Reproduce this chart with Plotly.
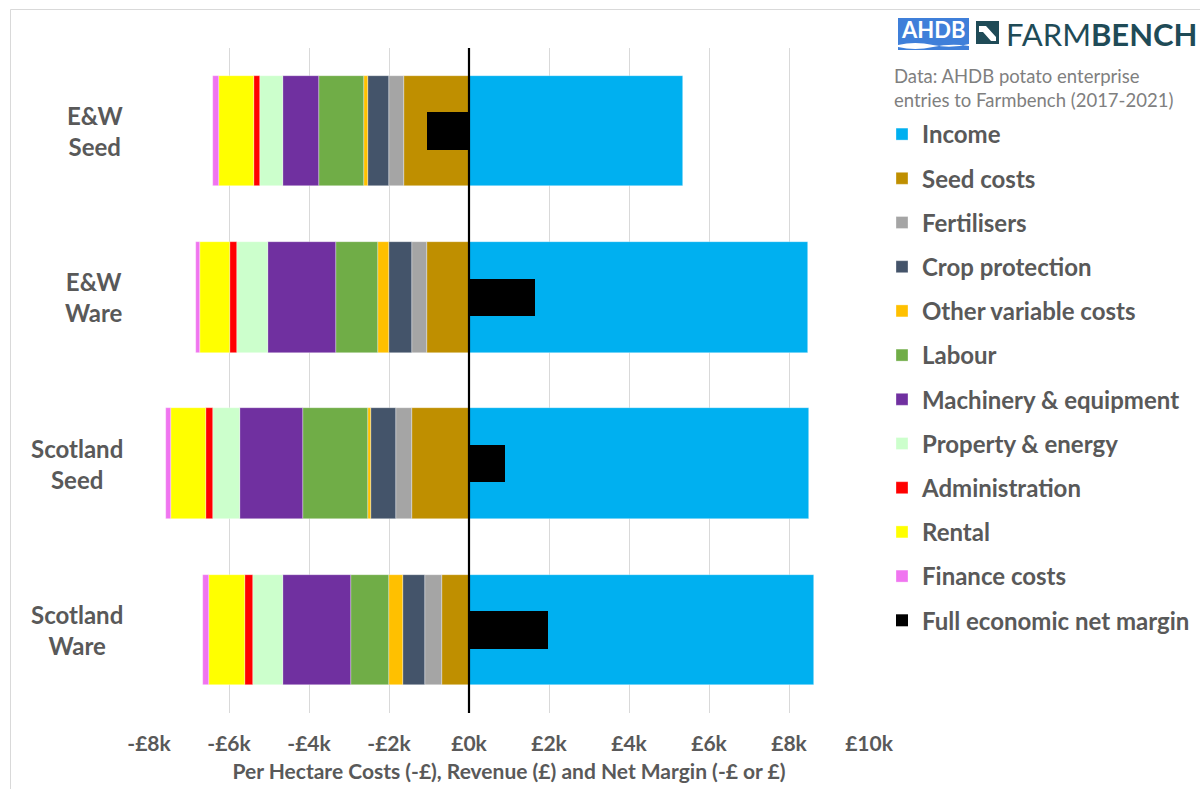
import plotly.graph_objects as go

# Per-hectare figures (£) for potato enterprises, Farmbench 2017-2021
categories = ["E&W Seed", "E&W Ware", "Scotland Seed", "Scotland Ware"]
category_labels = ["E&W<br>Seed", "E&W<br>Ware", "Scotland<br>Seed", "Scotland<br>Ware"]

income = [5340, 8485, 8490, 8635]
seed_costs = [-1615, -1057, -1425, -665]
fertilisers = [-392, -358, -390, -425]
crop_protection = [-508, -575, -625, -567]
other_variable = [-117, -292, -85, -333]
labour = [-1125, -1033, -1615, -960]
machinery = [-900, -1710, -1590, -1690]
property_energy = [-558, -775, -670, -750]
administration = [-160, -165, -180, -200]
rental = [-865, -765, -870, -910]
finance = [-160, -100, -130, -150]
net_margin = [-1060, 1655, 905, 1980]

tick_values = [-8000, -6000, -4000, -2000, 0, 2000, 4000, 6000, 8000, 10000]
tick_labels = ["-£8k", "-£6k", "-£4k", "-£2k", "£0k", "£2k", "£4k", "£6k", "£8k", "£10k"]

stack_series = [
    ("Income", income, "#00B0F0"),
    ("Seed costs", seed_costs, "#BF8F00"),
    ("Fertilisers", fertilisers, "#A5A5A5"),
    ("Crop protection", crop_protection, "#44546A"),
    ("Other variable costs", other_variable, "#FFC000"),
    ("Labour", labour, "#70AD47"),
    ("Machinery & equipment", machinery, "#7030A0"),
    ("Property & energy", property_energy, "#CCFFCC"),
    ("Administration", administration, "#FF0000"),
    ("Rental", rental, "#FFFF00"),
    ("Finance costs", finance, "#F075F0"),
]

FONT = "Lato, 'Open Sans', sans-serif"
GREY = "#595959"

# plot-area geometry in pixels (used for decorations outside the axes)
W, H = 1200, 789
L, R, T, B = 149, 331, 48, 76
PW, PH = W - L - R, H - T - B


def fx(px):
    return (px - L) / PW


def fy(py):
    return (H - B - py) / PH


fig = go.Figure()

for name, vals, color in stack_series:
    fig.add_trace(go.Bar(
        y=categories, x=vals, name=f"<b>{name}</b>", orientation="h",
        marker=dict(color=color, line=dict(width=0.6, color="rgba(255,255,255,0.55)")),
        width=0.665, legendgroup=name, yaxis="y",
    ))

fig.add_trace(go.Bar(
    y=categories, x=net_margin, name="<b>Full economic net margin</b>", orientation="h",
    marker=dict(color="#000000", line=dict(width=0)),
    width=0.225, legendgroup="net", yaxis="y2",
))

shapes = [
    # chart frame
    dict(type="rect", xref="paper", yref="paper",
         x0=fx(10.5), x1=fx(1215), y0=fy(805), y1=fy(9.5),
         line=dict(color="#D9D9D9", width=1), fillcolor="rgba(0,0,0,0)", layer="below"),
    # vertical zero line
    dict(type="line", xref="x", yref="paper", x0=0, x1=0, y0=0, y1=1,
         line=dict(color="#000000", width=2.2), layer="above"),
    # AHDB logo box
    dict(type="rect", xref="paper", yref="paper",
         x0=fx(898), x1=fx(969), y0=fy(50), y1=fy(18),
         line=dict(width=0), fillcolor="#3F7FD9"),
    dict(type="path", xref="paper", yref="paper",
         path=f"M {fx(898)},{fy(45)} Q {fx(915)},{fy(41)} {fx(933)},{fy(45)} T {fx(969)},{fy(44)} "
              f"L {fx(969)},{fy(46)} Q {fx(951)},{fy(43)} {fx(933)},{fy(47)} T {fx(898)},{fy(47)} Z",
         line=dict(width=0), fillcolor="#FFFFFF"),
    # Farmbench icon
    dict(type="rect", xref="paper", yref="paper",
         x0=fx(976), x1=fx(999), y0=fy(44), y1=fy(21),
         line=dict(width=0), fillcolor="#1F4B57"),
    dict(type="path", xref="paper", yref="paper",
         path=f"M {fx(979)},{fy(26)} L {fx(986)},{fy(26)} L {fx(996)},{fy(37)} L {fx(996)},{fy(41)} "
              f"L {fx(991)},{fy(41)} L {fx(983)},{fy(32)} L {fx(979)},{fy(32)} Z",
         line=dict(width=0), fillcolor="#FFFFFF"),
]

annotations = [
    dict(xref="paper", yref="y", x=fx(125), y=cat, text=f"<b>{lab}</b>",
         showarrow=False, xanchor="right", yanchor="middle", align="center",
         font=dict(family=FONT, size=24, color=GREY))
    for cat, lab in zip(categories, category_labels)
]
annotations += [
    dict(xref="paper", yref="paper", x=fx(933), y=fy(30), text="<b>AHDB</b>",
         showarrow=False, xanchor="center", yanchor="middle",
         font=dict(family=FONT, size=22, color="#FFFFFF")),
    dict(xref="paper", yref="paper", x=fx(1004), y=fy(34), text="FARM<b>BENCH</b>",
         showarrow=False, xanchor="left", yanchor="middle",
         font=dict(family=FONT, size=31, color="#1F4B57")),
    dict(xref="paper", yref="paper", x=fx(892), y=fy(88),
         text="Data: AHDB potato enterprise<br>entries to Farmbench (2017-2021)",
         showarrow=False, xanchor="left", yanchor="middle", align="left",
         font=dict(family=FONT, size=18.5, color="#7F7F7F")),
]

fig.update_layout(
    width=W, height=H,
    margin=dict(l=L, r=R, t=T, b=B, autoexpand=False),
    paper_bgcolor="#FFFFFF", plot_bgcolor="#FFFFFF",
    barmode="relative", bargap=0,
    font=dict(family=FONT, color=GREY),
    xaxis=dict(
        range=[-8000, 10000], tickvals=tick_values,
        ticktext=[f"<b>{t}</b>" for t in tick_labels],
        showgrid=True, gridcolor="#D9D9D9", gridwidth=1, zeroline=False,
        ticks="", ticklabelstandoff=16,
        tickfont=dict(family=FONT, size=21, color=GREY),
        title=dict(text="<b>Per Hectare Costs (-£), Revenue (£) and Net Margin (-£ or £)</b>",
                   font=dict(family=FONT, size=21, color=GREY), standoff=10),
        showline=False, fixedrange=True,
    ),
    yaxis=dict(
        type="category", categoryorder="array", categoryarray=categories,
        range=[3.5, -0.5], showticklabels=False, showgrid=False, zeroline=False,
        ticks="",
    ),
    yaxis2=dict(
        type="category", categoryorder="array", categoryarray=categories,
        range=[3.5, -0.5], overlaying="y", side="left", visible=False,
    ),
    legend=dict(
        x=fx(882), y=fy(112),
        xanchor="left", yanchor="top", traceorder="grouped", tracegroupgap=10,
        font=dict(family=FONT, size=24, color=GREY), bgcolor="rgba(0,0,0,0)",
        itemclick=False, maxheight=700,
    ),
    shapes=shapes,
    annotations=annotations,
    showlegend=True,
)

fig.write_html("out.html")
